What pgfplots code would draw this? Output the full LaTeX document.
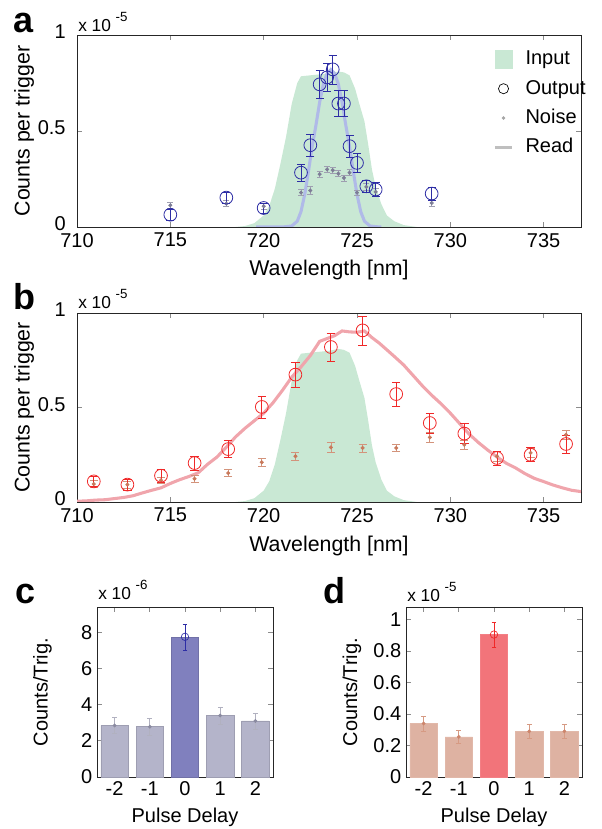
\documentclass[border=0pt]{standalone}
\usepackage{fontspec}
\setmainfont{Liberation Sans}
\usepackage{pgfplots}
\pgfplotsset{compat=1.18}
\usepackage{pgfplotstable}

\definecolor{ingreen}{RGB}{201,232,212}
\definecolor{outblue}{RGB}{45,45,165}
\definecolor{noisegray}{RGB}{125,125,150}
\definecolor{readblue}{RGB}{176,186,232}
\definecolor{outred}{RGB}{240,40,40}
\definecolor{noiseorange}{RGB}{200,120,90}
\definecolor{readpink}{RGB}{240,165,172}
\definecolor{barC}{RGB}{180,180,202}
\definecolor{barC0}{RGB}{128,128,190}
\definecolor{barD}{RGB}{222,178,162}
\definecolor{barD0}{RGB}{242,116,122}

\pgfplotstableread{
x y
718.5 0
719.0 0.005
719.5 0.02
720.0 0.06
720.3 0.11
720.6 0.20
720.9 0.33
721.2 0.47
721.5 0.64
721.8 0.75
722.0 0.785
722.5 0.79
723.0 0.795
723.5 0.80
724.0 0.81
724.3 0.805
724.6 0.79
724.9 0.72
725.1 0.65
725.4 0.55
725.6 0.43
725.8 0.30
726.0 0.21
726.3 0.12
726.6 0.06
727.0 0.03
727.5 0.01
728.2 0
}\inputtab

\pgfplotstableread{
x y
719.6 0
721.0 0
721.5 0.005
721.8 0.03
722.0 0.08
722.2 0.17
722.4 0.29
722.6 0.42
722.8 0.53
723.0 0.65
723.2 0.745
723.4 0.80
723.6 0.82
723.8 0.80
724.0 0.745
724.2 0.65
724.4 0.53
724.6 0.42
724.8 0.29
725.0 0.17
725.2 0.08
725.4 0.03
725.7 0.005
726.2 0
726.3 0
}\readA

\pgfplotstableread{
x y e
715.0 0.064 0.030
718.0 0.153 0.030
720.0 0.099 0.026
722.0 0.283 0.046
722.5 0.426 0.057
723.0 0.743 0.072
723.4 0.779 0.074
723.7 0.821 0.076
724.0 0.643 0.068
724.3 0.643 0.068
724.6 0.421 0.056
725.0 0.334 0.050
725.5 0.212 0.032
726.0 0.195 0.036
729.0 0.174 0.035
}\outA

\pgfplotstableread{
x y e
715.0 0.113 0.016
718.0 0.122 0.016
720.0 0.108 0.015
722.0 0.179 0.016
722.5 0.190 0.020
723.0 0.275 0.016
723.4 0.300 0.016
723.7 0.296 0.016
724.0 0.278 0.016
724.3 0.256 0.016
724.6 0.283 0.016
725.0 0.179 0.014
725.5 0.209 0.018
726.0 0.183 0.018
729.0 0.125 0.018
}\noiseA

\pgfplotstableread{
x y
710.0 0.004
710.5 0.006
711.0 0.010
711.5 0.012
712.0 0.018
712.5 0.024
713.0 0.033
713.5 0.048
714.0 0.062
714.5 0.075
715.0 0.098
715.5 0.118
716.0 0.135
716.5 0.155
717.0 0.200
717.5 0.238
718.0 0.290
718.5 0.345
719.0 0.390
719.5 0.430
720.0 0.470
720.5 0.525
721.0 0.590
721.5 0.660
722.0 0.715
722.5 0.775
723.0 0.850
723.4 0.865
723.8 0.880
724.2 0.905
724.6 0.900
725.0 0.898
725.4 0.905
725.8 0.870
726.2 0.840
726.6 0.805
727.0 0.770
727.5 0.725
728.0 0.670
728.5 0.615
729.0 0.565
729.5 0.520
730.0 0.470
730.5 0.415
731.0 0.360
731.5 0.315
732.0 0.275
732.5 0.238
733.0 0.205
733.5 0.180
734.0 0.150
734.5 0.125
735.0 0.108
735.5 0.090
736.0 0.075
736.5 0.062
737.0 0.055
}\readB

\pgfplotstableread{
x y e
710.9 0.109 0.028
712.7 0.092 0.028
714.5 0.139 0.034
716.3 0.206 0.037
718.1 0.280 0.044
719.9 0.503 0.059
721.7 0.674 0.066
723.6 0.820 0.073
725.3 0.908 0.077
727.1 0.571 0.062
728.9 0.418 0.053
730.75 0.362 0.053
732.5 0.233 0.038
734.3 0.250 0.037
736.2 0.307 0.047
}\outB

\pgfplotstableread{
x y e
710.9 0.095 0.018
712.7 0.092 0.018
714.5 0.115 0.018
716.3 0.123 0.020
718.1 0.153 0.018
719.9 0.210 0.020
721.7 0.242 0.022
723.6 0.289 0.025
725.3 0.286 0.022
727.1 0.286 0.020
728.9 0.342 0.025
730.75 0.303 0.025
732.5 0.242 0.025
734.3 0.260 0.025
736.2 0.356 0.025
}\noiseB

\pgfplotstableread{
x y e
-2 2.85 0.45
-1 2.78 0.45
1 3.40 0.48
2 3.10 0.45
}\barsC
\pgfplotstableread{
x y e
0 7.75 0.72
}\zeroC
\pgfplotstableread{
x y e
-2 0.340 0.048
-1 0.255 0.042
1 0.290 0.042
2 0.290 0.042
}\barsD
\pgfplotstableread{
x y e
0 0.905 0.078
}\zeroD

\pgfplotsset{
  mystyle/.style={
    scale only axis,
    anchor=south west,
    axis line style={black!85, line width=0.55pt},
    tick style={black!45, line width=0.5pt},
    major tick length=3.5pt,
    tick align=inside,
    ticklabel style={font=\fontsize{15}{18}\selectfont},
    /pgf/number format/assume math mode=true,
    scaled ticks=false,
  },
  spec/.style={
    mystyle,
    width=378pt,
    xmin=710, xmax=737, ymin=0, ymax=1,
    xtick={710,715,...,735}, ytick={0,0.5,1},
    label style={font=\fontsize{16}{19}\selectfont},
    yticklabel style={xshift=-5pt, yshift=2.5pt},
    xticklabel style={yshift=-1pt},
  },
  barax/.style={
    mystyle,
    width=132pt, height=127.5pt,
    xmin=-2.5, xmax=2.5, ymin=0,
    xtick={-2,-1,0,1,2},
    label style={font=\fontsize{15}{18}\selectfont},
    xlabel={Pulse Delay}, ylabel={Counts/Trig.},
  },
}

\begin{document}
\begin{tikzpicture}
\useasboundingbox (0,0) rectangle (451.5pt,621.75pt);

% ---------- panel a ----------
\begin{axis}[spec, at={(57.75pt,451.5pt)}, height=144pt,
  xlabel={Wavelength [nm]}, ylabel={Counts per trigger},
  xlabel style={at={(axis description cs:0.5,-0.225)}, anchor=center},
  ylabel style={at={(axis description cs:-0.105,0.5)}, anchor=center},
  legend style={draw=none, fill=none, inner sep=0pt,
    at={(axis cs:732.3,0.93)}, anchor=north west,
    font=\fontsize{15}{18}\selectfont, row sep=6pt, column sep=8pt,
    nodes={inner sep=1pt, text height=11pt, text depth=3pt},
    cells={anchor=west}},
]
\addplot[fill=ingreen, draw=none, forget plot] table[x=x,y=y] {\inputtab} \closedcycle;
\addplot[readblue, line width=2.3pt, forget plot] table[x=x,y=y] {\readA};
\addplot[only marks, mark=*, mark size=1.3pt, color=noisegray, forget plot,
  error bars/.cd, y dir=both, y explicit,
  error bar style={color=noisegray!75, line width=0.5pt},
  error mark options={rotate=90, mark size=2.2pt, noisegray!75}]
  table[x=x,y=y,y error=e] {\noiseA};
\addplot[only marks, mark=o, mark size=4.8pt, color=outblue, mark options={line width=0.6pt}, forget plot,
  error bars/.cd, y dir=both, y explicit,
  error bar style={color=outblue, line width=0.6pt},
  error mark options={rotate=90, mark size=3pt, outblue}]
  table[x=x,y=y,y error=e] {\outA};
\addlegendimage{legend image code/.code={\fill[ingreen] (0pt,-6.5pt) rectangle (13pt,6.5pt);}}
\addlegendentry{Input}
\addlegendimage{legend image code/.code={\draw[black, line width=0.5pt] (6.5pt,0pt) circle (3.8pt);}}
\addlegendentry{Output}
\addlegendimage{legend image code/.code={\fill[black!35] (6.5pt,0pt) circle (1.1pt);}}
\addlegendentry{Noise}
\addlegendimage{legend image code/.code={\draw[black!25, line width=2pt] (0pt,0pt) -- (13pt,0pt);}}
\addlegendentry{Read}
\end{axis}

% ---------- panel b ----------
\begin{axis}[spec, at={(57.75pt,245.25pt)}, height=141.75pt,
  xlabel={Wavelength [nm]}, ylabel={Counts per trigger},
  xlabel style={at={(axis description cs:0.5,-0.232)}, anchor=center},
  ylabel style={at={(axis description cs:-0.105,0.5)}, anchor=center},
]
\addplot[fill=ingreen, draw=none] table[x=x,y=y] {\inputtab} \closedcycle;
\addplot[readpink, line width=2.3pt] table[x=x,y=y] {\readB};
\addplot[only marks, mark=*, mark size=1.3pt, color=noiseorange,
  error bars/.cd, y dir=both, y explicit,
  error bar style={color=noiseorange!80, line width=0.5pt},
  error mark options={rotate=90, mark size=3pt, noiseorange!80}]
  table[x=x,y=y,y error=e] {\noiseB};
\addplot[only marks, mark=o, mark size=4.8pt, color=outred, mark options={line width=0.6pt},
  error bars/.cd, y dir=both, y explicit,
  error bar style={color=outred, line width=0.6pt},
  error mark options={rotate=90, mark size=3.2pt, outred}]
  table[x=x,y=y,y error=e] {\outB};
\end{axis}

% ---------- panel c ----------
\begin{axis}[barax, at={(72.75pt,39pt)}, ymax=9.4, ytick={0,2,4,6,8},
  xlabel style={at={(axis description cs:0.5,-0.24)}, anchor=center},
  ylabel style={at={(axis description cs:-0.31,0.5)}, anchor=center},
]
\addplot[ybar, bar width=0.78, bar shift=0pt, fill=barC, draw=barC!88!black, line width=0.4pt] table[x=x,y=y] {\barsC};
\addplot[ybar, bar width=0.78, bar shift=0pt, fill=barC0, draw=barC0!88!black, line width=0.4pt] table[x=x,y=y] {\zeroC};
\addplot[only marks, mark=*, mark size=1.2pt, color=noisegray!90,
  error bars/.cd, y dir=both, y explicit,
  error bar style={color=noisegray!60, line width=0.5pt},
  error mark options={rotate=90, mark size=1.8pt, noisegray!60}]
  table[x=x,y=y,y error=e] {\barsC};
\addplot[only marks, mark=o, mark size=2.8pt, color=outblue, mark options={line width=0.5pt},
  error bars/.cd, y dir=both, y explicit,
  error bar style={color=outblue, line width=0.5pt},
  error mark options={rotate=90, mark size=1.8pt, outblue}]
  table[x=x,y=y,y error=e] {\zeroC};
\end{axis}

% ---------- panel d ----------
\begin{axis}[barax, at={(304.5pt,39pt)}, ymax=1.08, ytick={0,0.2,0.4,0.6,0.8,1},
  yticklabel style={/pgf/number format/fixed},
  xlabel style={at={(axis description cs:0.5,-0.24)}, anchor=center},
  ylabel style={at={(axis description cs:-0.307,0.5)}, anchor=center},
]
\addplot[ybar, bar width=0.78, bar shift=0pt, fill=barD, draw=barD!92!white, line width=0.4pt] table[x=x,y=y] {\barsD};
\addplot[ybar, bar width=0.78, bar shift=0pt, fill=barD0, draw=barD0!92!white, line width=0.4pt] table[x=x,y=y] {\zeroD};
\addplot[only marks, mark=*, mark size=1.2pt, color=noiseorange!90,
  error bars/.cd, y dir=both, y explicit,
  error bar style={color=noiseorange!75, line width=0.5pt},
  error mark options={rotate=90, mark size=1.8pt, noiseorange!75}]
  table[x=x,y=y,y error=e] {\barsD};
\addplot[only marks, mark=o, mark size=2.8pt, color=outred, mark options={line width=0.5pt},
  error bars/.cd, y dir=both, y explicit,
  error bar style={color=outred, line width=0.5pt},
  error mark options={rotate=90, mark size=1.8pt, outred}]
  table[x=x,y=y,y error=e] {\zeroD};
\end{axis}

% ---------- exponent labels and panel letters ----------
\def\expo#1{\fontsize{13}{15}\selectfont x 10\hspace{3.5pt}\raisebox{7.5pt}{\fontsize{10}{12}\selectfont -#1}}
\node[anchor=base west, inner sep=0pt] at (58.5pt,597.75pt) {\expo{5}};
\node[anchor=base west, inner sep=0pt] at (58.5pt,390pt) {\expo{5}};
\node[anchor=base west, inner sep=0pt] at (73.5pt,171.75pt) {\expo{6}};
\node[anchor=base west, inner sep=0pt] at (305.25pt,170.25pt) {\expo{5}};

\node[anchor=base west, inner sep=0pt, font=\fontsize{27}{30}\selectfont\bfseries] at (9.75pt,597pt) {a};
\node[anchor=base west, inner sep=0pt, font=\fontsize{27}{30}\selectfont\bfseries] at (9.75pt,389.25pt) {b};
\node[anchor=base west, inner sep=0pt, font=\fontsize{27}{30}\selectfont\bfseries] at (11.25pt,169pt) {c};
\node[anchor=base west, inner sep=0pt, font=\fontsize{27}{30}\selectfont\bfseries] at (242.25pt,169pt) {d};
\end{tikzpicture}
\end{document}
